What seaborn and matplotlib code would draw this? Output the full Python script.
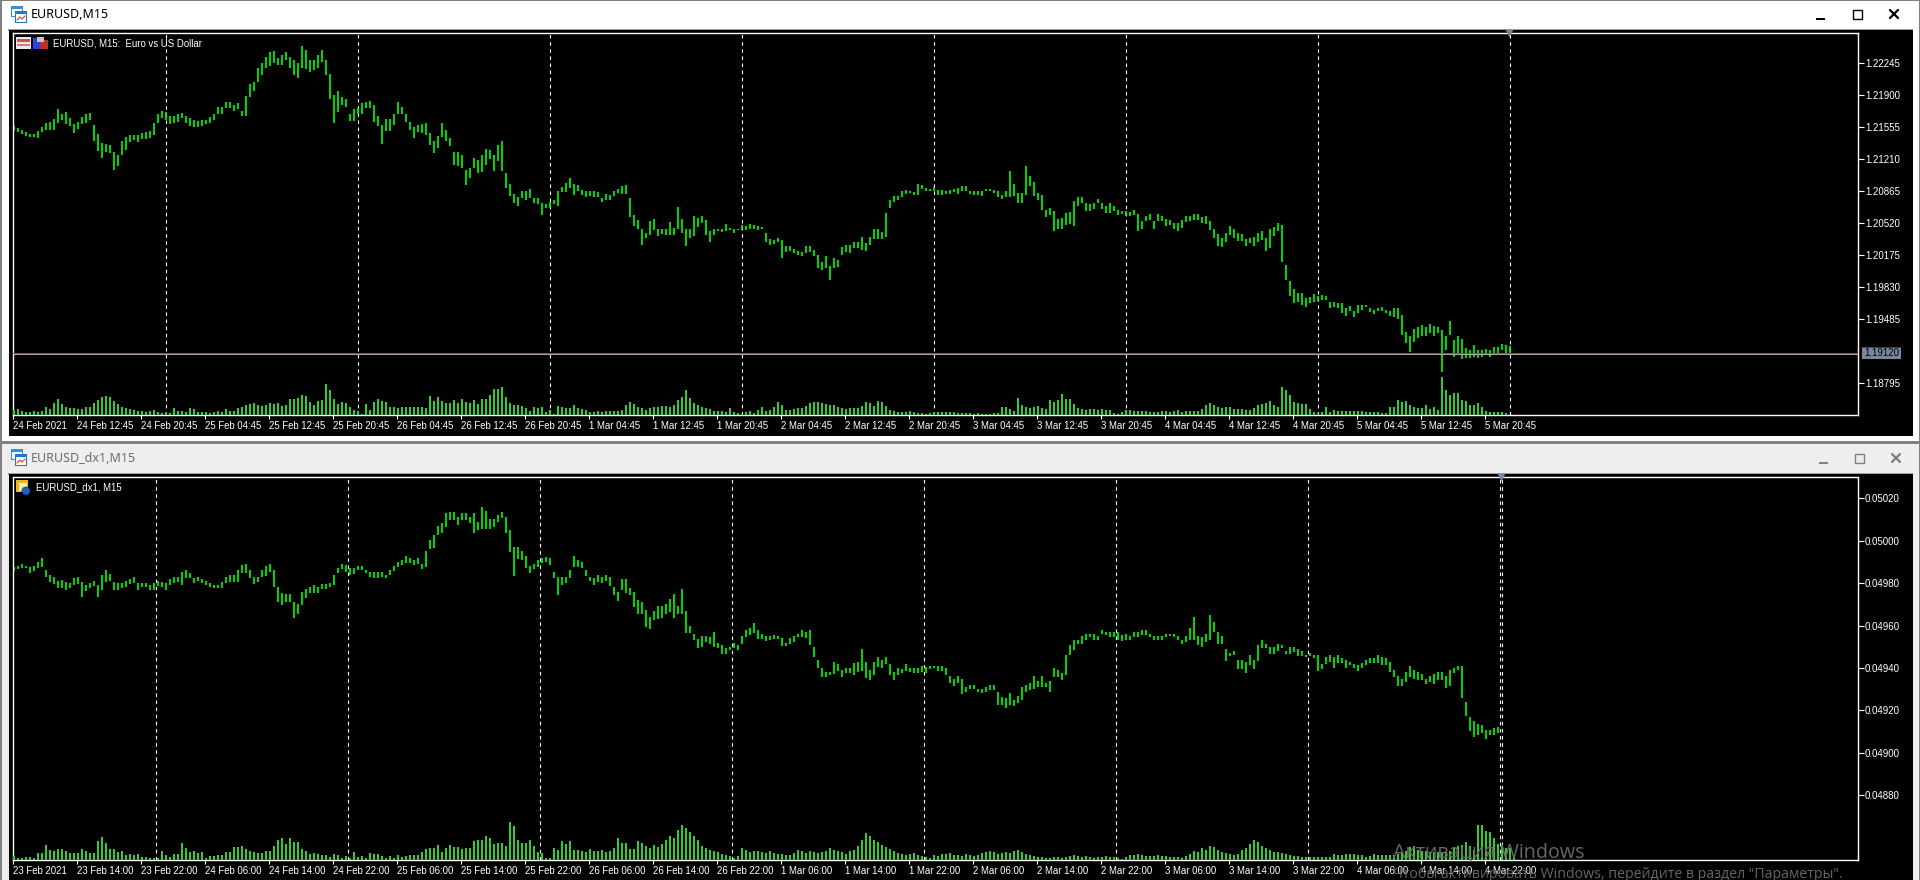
import matplotlib

matplotlib.use("Agg")
import matplotlib.pyplot as plt
from matplotlib.patches import Circle, Rectangle
from matplotlib.transforms import Affine2D
import numpy as np
import pandas as pd
import seaborn as sns

W, H = 1920, 880

# EURUSD M15, one bar of two, price = 1.18 + value / 10000
TOP_HIGH = [
    357,354,352,350,348,348,351,356,360,361,364,375,370,372,365,359,361,366,370,371,358,348,338,337,336,328,325,340,345,347,347,347,349,350,351,360,369,373,372,367,367,369,371,367,365,363,362,363,363,366,370,377,377,382,382,379,381,373,389,402,404,419,424,431,436,437,430,433,436,431,428,424,443,439,428,428,433,439,428,413,390,394,388,386,370,375,376,381,382,383,379,367,358,364,364,370,382,377,369,361,356,358,359,360,349,340,346,360,352,344,329,328,325,309,311,322,320,
    325,332,331,325,336,340,306,294,283,280,286,286,289,279,279,273,272,275,277,286,291,295,301,294,293,288,286,287,287,285,279,283,282,286,289,292,293,279,261,255,245,241,254,256,245,245,246,253,247,269,256,245,245,259,257,260,255,243,246,246,245,251,247,246,246,250,249,251,250,249,248,241,235,234,236,234,227,227,224,222,221,227,227,223,218,210,216,206,214,212,226,228,228,232,231,237,230,237,246,245,242,263,277,281,281,287,288,287,285,294,293,290,289,291,288,288,287,288,289,290,292,292,287,286,286,
    287,289,289,288,286,282,287,308,294,284,284,313,303,296,284,282,266,268,265,256,257,263,264,276,280,280,273,272,274,278,273,270,273,270,266,265,265,264,266,262,254,260,262,254,262,260,256,255,252,252,255,259,260,262,262,258,259,254,245,240,236,241,249,245,241,240,235,236,237,241,243,236,245,248,252,250,207,189,181,177,176,171,172,175,173,174,173,167,167,166,166,160,162,157,164,164,164,160,158,160,161,158,157,160,160,153,135,130,138,140,142,140,143,141,140,137,130,146,126,130,127,117,115,120,115,115,116,115,118,118,121,120,119,
]
TOP_LOW = [
    352,350,348,346,345,345,344,350,352,352,352,360,363,359,357,349,353,359,360,363,340,330,322,328,327,309,313,325,331,339,341,339,343,343,344,347,360,365,363,359,360,361,365,360,357,355,356,357,359,360,363,370,370,376,376,373,375,367,367,388,394,404,411,419,421,424,422,422,428,419,412,408,419,418,415,417,419,426,412,386,360,372,379,377,362,362,369,370,376,376,361,357,337,351,351,358,370,369,361,352,344,350,349,347,336,327,333,345,340,335,315,313,311,293,300,311,306,
    307,315,321,308,319,308,290,281,274,270,279,277,279,273,272,261,268,268,272,270,285,285,290,282,286,282,280,281,280,280,275,277,277,281,284,283,283,258,249,245,228,236,239,244,238,240,239,239,239,245,241,227,236,238,248,252,239,232,239,243,242,243,244,241,244,244,244,246,246,244,245,231,228,229,232,214,221,222,220,217,216,220,221,216,203,201,203,191,203,205,218,221,220,225,225,223,222,228,235,235,235,237,268,275,277,280,283,284,282,282,289,286,286,286,282,282,283,283,285,283,287,286,283,282,282,
    281,286,286,284,280,278,280,280,281,273,273,282,292,281,277,266,258,261,243,246,245,250,251,249,270,273,265,265,267,273,267,263,263,265,261,262,260,260,261,243,246,254,255,246,254,254,249,250,246,243,247,253,254,255,255,252,251,244,236,227,226,231,239,236,233,233,227,230,227,232,234,222,225,238,243,210,190,173,166,167,164,161,166,167,168,169,169,160,161,160,155,152,157,151,155,158,161,156,154,157,157,155,152,151,148,131,123,113,124,128,130,130,133,130,133,91,115,131,108,112,105,106,106,108,106,108,110,107,112,112,115,112,112,
]
TOP_VOLUME = [
    5,6,4,3,3,4,3,4,8,6,12,16,11,8,7,7,6,6,8,8,12,15,18,19,18,14,11,8,7,6,5,4,4,3,4,5,3,2,3,2,7,4,4,3,7,6,3,3,3,2,3,4,3,6,4,4,7,8,10,11,12,10,9,10,12,11,12,9,10,16,16,17,20,19,13,10,14,15,31,25,16,11,13,12,8,5,4,1,11,5,13,16,14,13,8,8,7,8,8,8,8,8,8,7,19,14,18,14,12,12,15,12,16,13,12,15,11,
    16,16,20,26,26,28,18,12,10,10,9,7,4,8,7,8,3,5,1,9,8,7,7,10,7,6,5,3,3,4,3,4,4,4,4,5,10,13,11,8,7,5,7,8,8,9,9,8,10,15,18,25,17,12,10,8,7,6,4,4,4,3,7,3,2,1,3,4,2,5,8,4,5,8,13,10,5,5,6,7,7,9,12,13,13,12,11,10,10,8,7,6,7,7,7,9,13,12,9,14,13,9,5,4,3,3,3,4,3,2,2,1,2,3,3,3,3,3,3,2,2,2,2,1,2,1,1,1,2,2,8,8,6,4,17,10,8,7,8,9,7,6,15,13,15,21,16,16,11,7,6,5,6,6,5,6,5,5,2,1,3,5,5,4,4,4,4,3,3,3,4,4,3,4,5,3,4,4,4,4,6,10,12,10,8,7,8,8,6,6,6,5,5,7,10,11,12,14,10,8,28,25,20,13,12,11,11,6,3,2,3,8,3,5,4,4,4,4,4,4,4,3,3,3,3,2,2,8,8,15,13,14,10,8,7,7,10,6,8,5,38,25,20,22,22,15,14,10,10,12,8,4,3,3,3,3,2,
]

# EURUSD_dx1 M15, one bar of two, price = 0.048 + value / 1000000
BOTTOM_HIGH = [
    1874,1881,1890,1881,1877,1881,1901,1917,1862,1838,1827,1811,1815,1807,1802,1822,1827,1807,1791,1799,1811,1791,1838,1862,1843,1807,1799,1799,1811,1818,1827,1799,1799,1799,1791,1802,1811,1807,1799,1818,1827,1827,1854,1862,1846,1822,1827,1818,1811,1799,1791,1791,1807,1830,1838,1838,1862,1885,1890,1862,1827,1827,1862,1881,1890,1862,1783,1752,1749,1749,1712,1701,1760,1771,1780,1791,1780,1796,1796,1799,1838,1870,1890,1885,1870,1870,1881,1881,1862,1854,1854,1854,1854,1838,1862,1881,1901,1909,1928,1917,1909,1917,1890,1953,2003,2027,2069,2082,2132,2137,2137,2113,2132,2129,2113,2129,2090,2157,2142,2101,2101,2121,2137,2113,2050,1972,1969,1953,1928,1881,
    1890,1909,1917,1924,1917,1854,1830,1830,1830,1862,1928,1909,1899,1862,1830,1822,1838,1827,1838,1827,1783,1759,1817,1817,1775,1759,1720,1712,1673,1641,1670,1692,1692,1701,1723,1748,1692,1770,1670,1597,1560,1535,1550,1550,1547,1571,1519,1508,1492,1500,1519,1508,1550,1579,1586,1610,1579,1560,1550,1550,1555,1550,1539,1519,1539,1550,1560,1579,1571,1579,1500,1437,1398,1382,1382,1429,1418,1390,1398,1398,1424,1429,1487,1429,1390,1429,1453,1437,1453,1418,1382,1398,1393,1418,1398,1398,1398,1409,1406,1409,1409,1409,1409,1398,1362,1346,1362,1346,1311,1319,1319,1300,1300,1308,1319,1319,1288,1261,1256,1280,1248,1267,1311,1319,1327,
    1361,1338,1361,1327,1339,1398,1390,1374,1460,1508,1531,1531,1550,1560,1560,1560,1550,1578,1570,1569,1569,1569,1555,1560,1550,1569,1569,1578,1578,1560,1550,1550,1550,1560,1560,1560,1550,1531,1550,1586,1638,1550,1544,1560,1649,1618,1570,1550,1487,1471,1479,1437,1437,1429,1460,1437,1508,1531,1515,1500,1500,1515,1508,1481,1500,1500,1487,1479,1460,1471,1460,1460,1418,1453,1460,1453,1460,1445,1437,1427,1418,1413,1424,1437,1449,1449,1460,1453,1445,1429,1390,1361,1350,1382,1409,1390,1380,1371,1350,1361,1371,1380,1380,1361,1390,1398,1409,1409,1240,1170,1151,1138,1130,1107,1107,1119,1121,
]
BOTTOM_LOW = [
    1857,1865,1870,1870,1849,1859,1870,1874,1827,1807,1796,1777,1777,1767,1775,1791,1796,1736,1764,1775,1786,1736,1767,1807,1811,1767,1767,1775,1783,1796,1799,1767,1780,1783,1767,1767,1786,1783,1767,1791,1802,1807,1791,1822,1822,1799,1811,1799,1791,1780,1777,1777,1777,1799,1807,1807,1807,1846,1849,1822,1796,1807,1827,1833,1854,1783,1712,1697,1712,1712,1635,1654,1697,1728,1752,1755,1752,1771,1771,1780,1791,1846,1865,1854,1838,1843,1862,1862,1846,1827,1822,1822,1827,1822,1838,1859,1874,1885,1896,1893,1885,1890,1865,1874,1959,1964,2027,2035,2066,2098,2098,2074,2098,2098,2082,2035,2050,2053,2053,2053,2066,2090,2105,2038,1948,1833,1912,1909,1870,1846,
    1865,1877,1893,1901,1885,1822,1744,1791,1799,1822,1877,1877,1869,1833,1811,1791,1806,1799,1811,1786,1744,1717,1767,1755,1744,1685,1654,1654,1591,1582,1626,1629,1634,1654,1665,1634,1654,1654,1563,1563,1531,1492,1497,1524,1513,1500,1492,1465,1465,1484,1492,1484,1513,1544,1555,1563,1535,1535,1528,1531,1535,1535,1503,1503,1513,1524,1544,1547,1539,1508,1450,1402,1355,1358,1366,1371,1387,1355,1374,1377,1366,1382,1387,1351,1343,1366,1406,1398,1418,1366,1343,1366,1374,1387,1382,1374,1377,1382,1377,1393,1398,1387,1387,1366,1330,1314,1330,1277,1288,1299,1299,1288,1283,1288,1296,1296,1225,1225,1209,1225,1220,1233,1248,1288,1296,
    1303,1311,1308,1308,1288,1355,1355,1343,1366,1460,1484,1512,1512,1534,1544,1534,1534,1560,1555,1547,1547,1531,1528,1534,1534,1544,1544,1555,1555,1547,1534,1534,1534,1544,1550,1547,1534,1512,1523,1534,1534,1508,1497,1523,1534,1570,1512,1512,1434,1456,1460,1393,1393,1374,1413,1393,1434,1492,1492,1465,1465,1481,1492,1465,1465,1476,1456,1456,1453,1456,1449,1387,1393,1418,1429,1402,1424,1421,1402,1413,1402,1387,1402,1413,1421,1424,1421,1413,1413,1382,1355,1314,1314,1335,1355,1350,1343,1343,1324,1335,1324,1343,1343,1305,1314,1374,1390,1256,1173,1104,1075,1083,1091,1064,1083,1083,1094,
]
BOTTOM_VOLUME = [
    4,2,2,3,3,2,7,7,15,10,9,11,11,9,7,7,7,11,9,7,7,19,23,17,11,11,8,9,5,6,5,6,3,3,2,2,2,9,5,3,6,6,17,12,8,9,7,8,2,4,4,5,5,8,8,13,13,14,11,9,8,7,7,9,9,14,20,22,16,22,18,18,11,9,6,7,6,5,5,3,6,5,2,4,2,8,3,4,2,7,6,6,4,2,4,2,5,3,4,5,5,5,8,11,12,12,15,8,12,15,13,13,11,12,12,19,20,20,24,22,16,17,17,14,38,34,20,17,17,20,14,8,7,2,2,12,10,19,16,19,10,10,9,8,11,9,9,10,8,9,12,22,17,17,11,11,19,17,
    14,12,15,13,16,20,24,22,30,35,32,28,24,20,14,12,10,9,8,6,5,4,2,4,12,10,8,9,9,8,7,9,7,6,6,5,5,7,10,9,7,9,8,7,8,9,12,10,9,8,6,9,10,14,20,27,24,20,18,15,13,11,9,7,6,5,6,7,5,4,3,2,5,4,6,6,7,5,5,4,6,5,4,5,7,8,9,8,6,7,8,7,9,10,8,6,5,4,3,3,2,2,3,3,2,3,4,5,4,3,4,3,2,3,3,4,3,3,2,1,3,5,5,6,5,4,4,4,5,4,4,3,3,3,2,4,6,9,8,12,10,14,13,10,8,7,6,5,6,10,12,16,20,18,14,12,10,8,8,7,6,5,4,4,3,3,3,3,3,3,3,3,6,5,5,6,6,6,5,5,3,4,6,5,5,5,5,5,6,8,9,13,14,10,9,9,8,8,8,8,8,9,13,14,15,18,14,10,35,35,29,28,22,16,15,12,12,5,
]

TOP_TICKS = [1.22245, 1.21900, 1.21555, 1.21210, 1.20865, 1.20520, 1.20175, 1.19830, 1.19485, 1.18795]
BOTTOM_TICKS = [0.05020, 0.05000, 0.04980, 0.04960, 0.04940, 0.04920, 0.04900, 0.04880]
BID = 1.19120

TOP_DATES = [
    "24 Feb 2021", "24 Feb 12:45", "24 Feb 20:45", "25 Feb 04:45", "25 Feb 12:45", "25 Feb 20:45",
    "26 Feb 04:45", "26 Feb 12:45", "26 Feb 20:45", "1 Mar 04:45", "1 Mar 12:45", "1 Mar 20:45",
    "2 Mar 04:45", "2 Mar 12:45", "2 Mar 20:45", "3 Mar 04:45", "3 Mar 12:45", "3 Mar 20:45",
    "4 Mar 04:45", "4 Mar 12:45", "4 Mar 20:45", "5 Mar 04:45", "5 Mar 12:45", "5 Mar 20:45",
]
BOTTOM_DATES = [
    "23 Feb 2021", "23 Feb 14:00", "23 Feb 22:00", "24 Feb 06:00", "24 Feb 14:00", "24 Feb 22:00",
    "25 Feb 06:00", "25 Feb 14:00", "25 Feb 22:00", "26 Feb 06:00", "26 Feb 14:00", "26 Feb 22:00",
    "1 Mar 06:00", "1 Mar 14:00", "1 Mar 22:00", "2 Mar 06:00", "2 Mar 14:00", "2 Mar 22:00",
    "3 Mar 06:00", "3 Mar 14:00", "3 Mar 22:00", "4 Mar 06:00", "4 Mar 14:00", "4 Mar 22:00",
]
TOP_SEPARATORS = [76, 172, 268, 364, 460, 556, 652, 748]
BOTTOM_SEPARATORS = [71, 167, 263, 359, 455, 551, 647, 743.2, 744.2]

LIME = "#00ff00"
VOLUME = "#32cd32"
SLATE = "#778899"

sns.set_theme(style="dark")
plt.rcParams["font.family"] = ["Liberation Sans", "DejaVu Sans"]

fig = plt.figure(figsize=(W / 100, H / 100), dpi=100, facecolor="#ffffff")
PX = Affine2D().scale(1 / W, -1 / H).translate(0, 1) + fig.transFigure


def box(x0, y0, x1, y1, color, zorder=-1, **kw):
    fig.add_artist(Rectangle((x0, y0), x1 - x0, y1 - y0, transform=PX, fc=color, ec="none", zorder=zorder, **kw))


def window_icon(x, y):
    box(x, y, x + 12, y + 11, "#2f8fe0", zorder=5)
    box(x + 1, y + 3, x + 11, y + 10, "#ffffff", zorder=5)
    box(x + 4, y + 5, x + 16, y + 17, "#2077c8", zorder=6)
    box(x + 5, y + 8, x + 15, y + 16, "#ffffff", zorder=6)
    fig.add_artist(plt.Line2D([x + 6, x + 9, x + 11, x + 14], [y + 14, y + 11, y + 13, y + 10], transform=PX, color="#e05030", lw=0.9, zorder=7))


def window_buttons(y, color):
    box(1816 + (y > 100) * 3, y + 3, 1825 + (y > 100) * 3, y + 5, color, zorder=5)
    fig.add_artist(Rectangle((1853 + (y > 100) * 2, y - 5), 9, 9, transform=PX, fc="none", ec=color, lw=1, zorder=5))
    fig.add_artist(plt.Line2D([1890 + (y > 100) * 2, 1898 + (y > 100) * 2], [y - 5, y + 3], transform=PX, color=color, lw=1.6, zorder=5))
    fig.add_artist(plt.Line2D([1890 + (y > 100) * 2, 1898 + (y > 100) * 2], [y + 3, y - 5], transform=PX, color=color, lw=1.6, zorder=5))


def draw_chart(left, top, right, bottom, high, low, volume, scale, base, ylim, yticks, yfmt, dates, separators):
    ax = fig.add_axes([left / W, 1 - bottom / H, (right - left) / W, (bottom - top) / H], facecolor="#000000")
    vol_ax = ax.twinx()
    bars = np.arange(len(high)) * 2
    vol_bars = np.arange(len(volume)) * 2

    sns.barplot(
        data=pd.DataFrame({"bar": vol_bars, "ticks": volume}),
        x="bar", y="ticks", native_scale=True, width=0.5, color=VOLUME, saturation=1,
        linewidth=0, ax=vol_ax,
    )
    vol_ax.set_ylim(0, bottom - top)
    vol_ax.axis("off")

    ax.vlines(bars, base + np.array(low) * scale, base + np.array(high) * scale, color=LIME, lw=1.2)
    for x in separators:
        ax.axvline(x, color="#ffffff", lw=0.8, linestyle=(0, (3.2, 3.2)), zorder=1)

    ax.set_xlim((left - 14) / 2, (right - 14) / 2)
    ax.set_ylim(*ylim)
    ax.set_yticks(yticks, [yfmt % t for t in yticks])
    ax.yaxis.tick_right()
    ax.set_xticks(np.arange(len(dates)) * 32 - 0.5, dates, ha="left")
    ax.tick_params(axis="y", length=4, width=0.8, color="#ffffff", labelcolor="#ffffff", labelsize=7, pad=1, right=True)
    ax.tick_params(axis="x", length=3, width=0.8, color="#ffffff", labelcolor="#ffffff", labelsize=6.9, pad=1.5, bottom=True)
    ax.grid(False)
    for spine in ax.spines.values():
        spine.set_visible(True)
        spine.set_color("#ffffff")
        spine.set_linewidth(1)
    ax.plot(separators[-1] - 0.7, 1, "v", transform=ax.get_xaxis_transform(), color=SLATE, ms=5.5, clip_on=False, zorder=4, mec="none")
    return ax


# window frames
box(0, 0, W, 1, "#808080")
box(0, 0, 2, H, "#808080")
box(1919, 0, W, H, "#808080")
box(8, 29, 1913, 31, "#a0a0a0")
box(9, 30.5, 1912.5, 436, "#000000")
box(2, 441, 1919, 444, "#808080")
box(2, 444, 1919, H, "#eeeeee")
box(8, 473, 1913, 475, "#a0a0a0")
box(9, 474.5, 1912.5, H, "#000000")

fig.text(31, 15, "EURUSD,M15", transform=PX, family="Noto Sans", fontsize=9, color="#000000", va="center")
fig.text(31, 458.5, "EURUSD_dx1,M15", transform=PX, family="Noto Sans", fontsize=9, color="#6d6d6d", va="center")
window_icon(11, 6)
window_icon(11, 449)
window_buttons(15, "#000000")
window_buttons(459, "#808080")

top_ax = draw_chart(
    12.5, 33, 1858, 415, TOP_HIGH, TOP_LOW, TOP_VOLUME, 1e-4, 1.18, (1.18450, 1.22568),
    TOP_TICKS, "%.5f", TOP_DATES, TOP_SEPARATORS,
)
draw_chart(
    12.5, 477, 1858, 859.5, BOTTOM_HIGH, BOTTOM_LOW, BOTTOM_VOLUME, 1e-6, 0.048, (0.048497, 0.0503),
    BOTTOM_TICKS, "%.5f", BOTTOM_DATES, BOTTOM_SEPARATORS,
)

top_ax.axhline(BID, color="#ff2020", lw=0.8, zorder=3)
top_ax.axhline(BID - 0.00011, color="#c8c8c8", lw=0.6, zorder=2)
box(1862, 348, 1901, 359, SLATE, zorder=5)
box(1862, 347.5, 1901, 348.5, "#e00000", zorder=5)
fig.text(1864, 353.5, "%.5f" % BID, transform=PX, fontsize=7, color="#000000", va="center", zorder=6)

# chart captions and their small icons
fig.text(53, 44, "EURUSD, M15:  Euro vs US Dollar", transform=PX, fontsize=6.9, color="#ffffff", va="center")
box(16, 37, 31, 49, "#e8e8f0", zorder=5)
box(17, 39, 30, 42, "#d05050", zorder=6)
box(17, 44, 30, 46, "#d08080", zorder=6)
box(33, 38, 41, 49, "#3040e0", zorder=5)
box(40, 40, 48, 49, "#c03030", zorder=5)
box(37, 37, 44, 42, "#c8c8c8", zorder=6)
fig.text(36.5, 487.5, "EURUSD_dx1, M15", transform=PX, fontsize=6.9, color="#ffffff", va="center")
box(16, 480, 28, 492, "#e8b820", zorder=5)
box(19, 483, 27, 491, "#f8e8a0", zorder=6)
fig.add_artist(Circle((26, 491), 4, transform=PX, fc="#2060c0", ec="#103070", lw=0.5, zorder=7))

# activation watermark of the screenshot
fig.text(1393, 852, "Активация Windows", transform=PX, family="Open Sans", fontsize=14.2, color="#666666", va="center", zorder=8)
fig.text(1393, 874, "Чтобы активировать Windows, перейдите в раздел \"Параметры\".", transform=PX, family="Open Sans", fontsize=10.2, color="#666666", va="center", zorder=8)

fig.savefig("out.png", dpi=100, facecolor=fig.get_facecolor())
